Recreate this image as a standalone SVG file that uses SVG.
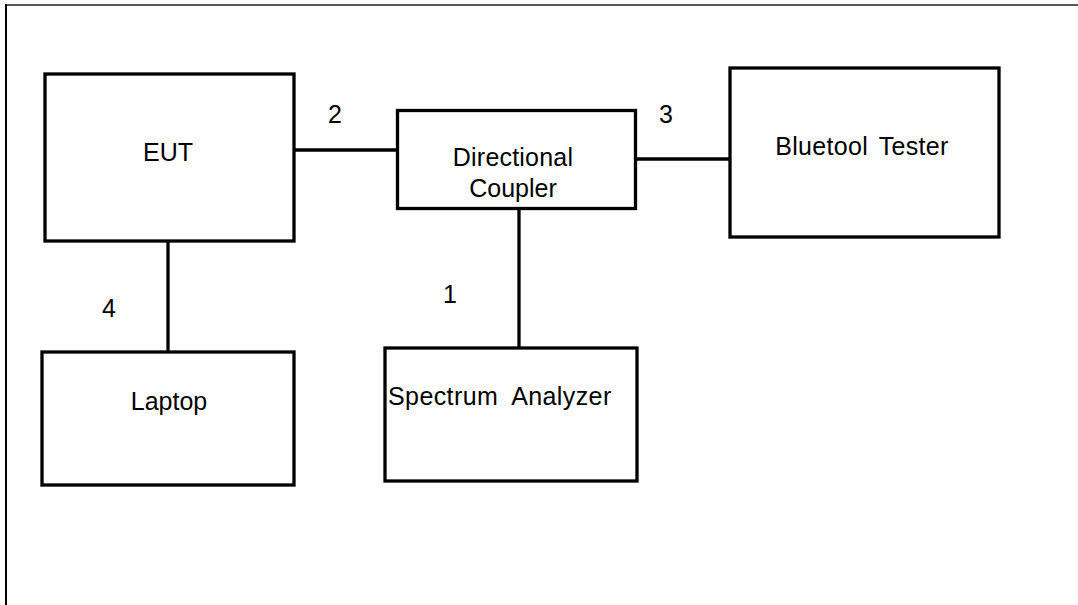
<svg xmlns="http://www.w3.org/2000/svg" width="1078" height="605" viewBox="0 0 1078 605">
<style>
.box{fill:#fff;stroke:#000;stroke-width:3.3}
.wire{stroke:#000;stroke-width:3.3;fill:none}
text{font-family:"Liberation Sans",Arial,sans-serif;font-size:25px;fill:#000}
.c{text-anchor:middle}
</style>
<rect width="1078" height="605" fill="#fff"/>
<g id="frame">
<line x1="5" y1="5" x2="1078" y2="5" stroke="#222" stroke-width="1.6"/>
<line x1="6" y1="4" x2="6" y2="605" stroke="#000" stroke-width="2"/>
</g>
<g id="connectors">
<line class="wire" x1="295" y1="150" x2="397" y2="150"/>
<line class="wire" x1="637" y1="159" x2="730" y2="159"/>
<line class="wire" x1="519" y1="210" x2="519" y2="348"/>
<line class="wire" x1="168" y1="242" x2="168" y2="352"/>
<text x="328" y="123">2</text>
<text x="659" y="123">3</text>
<text x="102" y="317">4</text>
<text x="443" y="303">1</text>
</g>
<g id="eut">
<rect class="box" x="45" y="74" width="249" height="167"/>
<text class="c" x="168" y="161">EUT</text>
</g>
<g id="coupler">
<rect class="box" x="397.5" y="110.5" width="238" height="98"/>
<text class="c" x="513" y="166" letter-spacing="0.2">Directional</text>
<text class="c" x="513" y="197">Coupler</text>
</g>
<g id="tester">
<rect class="box" x="730" y="68" width="269" height="169"/>
<text class="c" x="862" y="155" word-spacing="4" letter-spacing="0.3">Bluetool Tester</text>
</g>
<g id="laptop">
<rect class="box" x="42" y="352" width="252" height="133"/>
<text class="c" x="169" y="410">Laptop</text>
</g>
<g id="analyzer">
<rect class="box" x="385" y="348" width="252" height="133"/>
<text x="388" y="405" word-spacing="7" letter-spacing="0.4">Spectrum Analyzer</text>
</g>
</svg>
